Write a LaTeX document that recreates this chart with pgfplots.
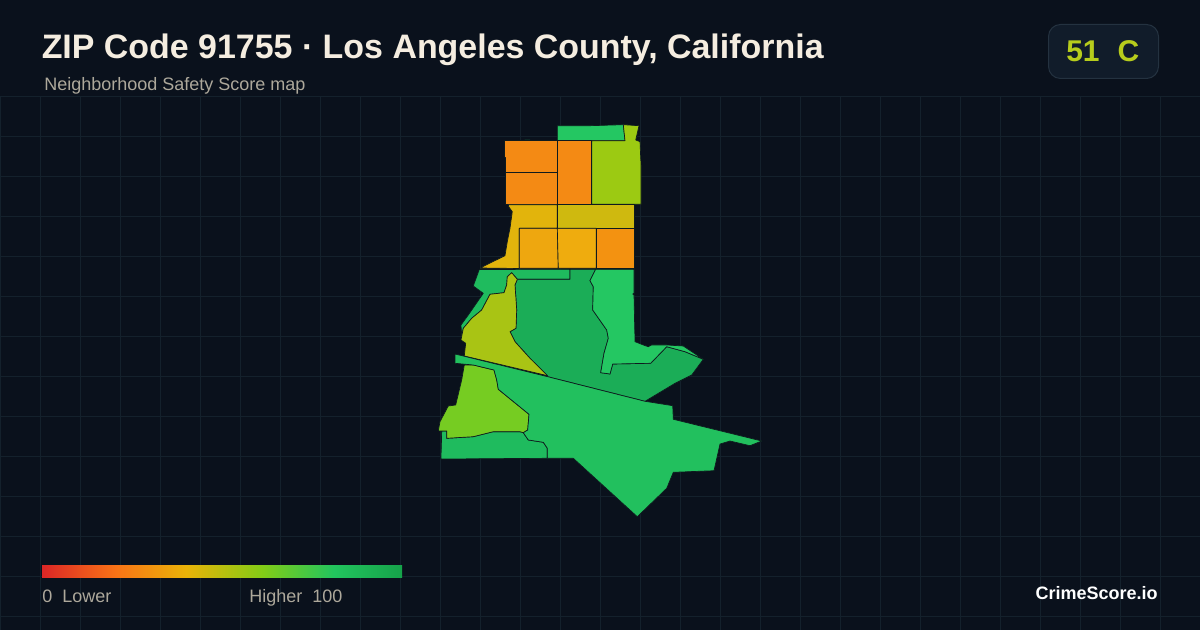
\documentclass[border=0pt]{standalone}
\usepackage{pgfplots}
\pgfplotsset{compat=1.18}
\usepackage{fontspec}
\setmainfont{Liberation Sans}
\definecolor{bg}{HTML}{0A111C}
\definecolor{gridc}{HTML}{14212C}
\definecolor{edge}{HTML}{0E1A1E}
\definecolor{titlec}{HTML}{F5EDE0}
\definecolor{subc}{HTML}{ADA89B}
\definecolor{badgef}{HTML}{111C2A}
\definecolor{badgee}{HTML}{243240}
\definecolor{badget}{HTML}{B7CC1C}
\definecolor{cA}{HTML}{F48A14}
\definecolor{cB}{HTML}{9CCA12}
\definecolor{cC}{HTML}{E2B40C}
\definecolor{cD}{HTML}{CFB90F}
\definecolor{cE}{HTML}{EEA70F}
\definecolor{cF}{HTML}{EFAC0E}
\definecolor{cG}{HTML}{F39211}
\definecolor{cH}{HTML}{1FBB5E}
\definecolor{cI}{HTML}{A9C414}
\definecolor{cJ}{HTML}{1BAD57}
\definecolor{cK}{HTML}{24C762}
\definecolor{cL}{HTML}{22C05E}
\definecolor{cM}{HTML}{76CC22}
\definecolor{scA}{HTML}{DC2626}
\definecolor{scB}{HTML}{F97316}
\definecolor{scC}{HTML}{EAB308}
\definecolor{scD}{HTML}{84CC16}
\definecolor{scE}{HTML}{22C55E}
\definecolor{scF}{HTML}{16A34A}
\pgfdeclarehorizontalshading{scorebar}{100bp}{
 color(0bp)=(scA);
 color(25bp)=(scA);
 color(35.25bp)=(scB);
 color(45bp)=(scC);
 color(55.5bp)=(scD);
 color(65.5bp)=(scE);
 color(75bp)=(scF);
 color(100bp)=(scF)}
\pgfplotsset{zone/.style={fill=#1,draw=edge,line width=0.5pt,line join=round,forget plot}}
\begin{document}
\begin{tikzpicture}
\begin{axis}[
 scale only axis,width=900pt,height=472.5pt,
 xmin=0,xmax=1200,ymin=0,ymax=630,y dir=reverse,
 axis lines=none,clip=true]
\fill[bg] (axis cs:0,0) rectangle (axis cs:1200,630);
\pgfplotsinvokeforeach{0,40,80,120,160,200,240,280,320,360,400,440,480,520,560,600,640,680,720,760,800,840,880,920,960,1000,1040,1080,1120,1160}{
 \addplot[gridc,line width=0.75pt,forget plot] coordinates {(#1+0.5,96)(#1+0.5,630)};}
\pgfplotsinvokeforeach{96,136,176,216,256,296,336,376,416,456,496,536,576,616}{
 \addplot[gridc,line width=0.75pt,forget plot] coordinates {(0,#1+0.5)(1200,#1+0.5)};}
% map zones
\addplot[zone=cK] coordinates {(557.3,125.7)(590,125.7)(623.3,124.7)(625,140.7)(557.3,140.7)} --cycle;
\addplot[zone=cB] coordinates {(623.3,124.7)(639,125.7)(635.7,140)(640,141.7)(641,165)(641,204.3)(591.7,204.3)(591.7,140.7)(625,140.7)} --cycle;
\addplot[fill=cH,draw=none,forget plot] coordinates {(504,140.8)(530,139.8)(530,141)(504,141)} --cycle;
\addplot[zone=cA] coordinates {(504,140.7)(557.3,140.7)(557.3,172.3)(505,172.3)(505,157)(504,157)} --cycle;
\addplot[zone=cA] coordinates {(505,172.3)(557.3,172.3)(557.3,204.3)(505,204.3)} --cycle;
\addplot[zone=cA] coordinates {(557.3,140.7)(591.7,140.7)(591.7,204.3)(557.3,204.3)} --cycle;
\addplot[zone=cC] coordinates {(508.3,204.7)(557.3,204.7)(557.3,228.3)(519.3,228.3)(519.3,268.5)(480,268)(505,255.7)(507.3,241.7)(510,228.3)(512.3,211.7)(508.7,206.7)} --cycle;
\addplot[zone=cD] coordinates {(557.3,204.7)(634,204.7)(634,228.3)(557.3,228.3)} --cycle;
\addplot[zone=cE] coordinates {(519.3,228.3)(557.3,228.3)(558.3,268.3)(519.3,268.3)} --cycle;
\addplot[zone=cF] coordinates {(557.3,228.3)(596.3,228.3)(596.3,268.3)(558.3,268.3)} --cycle;
\addplot[zone=cG] coordinates {(596.3,228.3)(634,228.3)(634,268.3)(596.3,268.3)} --cycle;
\addplot[zone=cH] coordinates {(479.3,269.5)(570,269.3)(570,279.3)(517.3,279.3)(511.7,272.7)(507.3,276.7)(506.7,285)(504,292.7)(490,294.3)(481.7,310)(471.7,318.3)(463.3,328.3)(461.7,335)(461,325)(468.3,315)(483.3,293.3)(473.3,286)} --cycle;
\addplot[zone=cJ] coordinates {(570,269.3)(595.7,269.3)(590,280.7)(593.3,286.7)(592.7,310)(606.7,330)(608.3,338.3)(604,353.3)(600.7,372.7)(610,374)(612.7,364)(650.7,363.3)(666.7,346.7)(685,351.7)(703.3,359.3)(691.7,375)(675,383.3)(645,401.3)(547.7,376.7)(530,358.3)(515,341.7)(510,331.7)(516,328.3)(516.7,310)(515,285)(517.3,279.3)(570,279.3)} --cycle;
\addplot[zone=cK] coordinates {(595.7,269.3)(634,269.3)(634,293.3)(632.7,294)(634,295)(635,341.7)(643.3,345)(648.3,346.7)(651.7,345)(666.7,345)(683.3,346)(703.3,359.3)(685,351.7)(666.7,346.7)(650.7,363.3)(612.7,364)(610,374)(600.7,372.7)(604,353.3)(608.3,338.3)(606.7,330)(592.7,310)(593.3,286.7)(590,280.7)} --cycle;
\addplot[zone=cI] coordinates {(511.7,272.7)(517.3,279.3)(515,285)(516.7,310)(516,328.3)(510,331.7)(515,341.7)(530,358.3)(547.7,375.7)(464.3,356)(465.7,343.3)(461,340)(463.3,328.3)(471.7,318.3)(481.7,310)(490,294.3)(504,292.7)(506.7,285)(507.3,276.7)} --cycle;
\addplot[zone=cH] coordinates {(441.7,431)(446.7,431)(446.7,438.3)(473.3,436.7)(493.3,431.7)(520,431.7)(523.3,432.7)(528.3,440)(543.3,442.3)(547.3,448.3)(547.3,458.3)(441,459)} --cycle;
\addplot[zone=cM] coordinates {(464.3,365)(473.3,365)(494,370)(496.7,380)(498.3,389.3)(529,414.3)(527.7,430)(523.3,432.7)(520,431.7)(493.3,431.7)(473.3,436.7)(446.7,438.3)(446.7,431)(438.3,431)(440,421.7)(448.3,406)(455.7,405)(461.7,380)} --cycle;
\addplot[zone=cL] coordinates {(455,354)(547.7,376.7)(645,401.3)(672.7,405.7)(673.3,419.3)(761.7,441)(750,445.7)(730,441)(720,444)(714,470.7)(673.3,472.3)(666.7,488.3)(637.3,516.7)(573.3,458.3)(547.3,458.3)(547.3,448.3)(543.3,442.3)(528.3,440)(523.3,432.7)(527.7,430)(529,414.3)(498.3,389.3)(496.7,380)(494,370)(473.3,365)(455,363.3)} --cycle;
% header
\node[anchor=base west,inner sep=0,text=titlec,font=\fontsize{25.45pt}{30pt}\selectfont\bfseries] at (axis cs:41.5,59) {ZIP Code 91755 · Los Angeles County, California};
\node[anchor=base west,inner sep=0,text=subc,font=\fontsize{13.5pt}{15pt}\selectfont] at (axis cs:44,91) {Neighborhood Safety Score map};
\draw[fill=badgef,draw=badgee,line width=0.75pt,rounded corners=9pt] (axis cs:1048.5,24.5) rectangle (axis cs:1158.5,78.5);
\node[anchor=base west,inner sep=0,text=badget,font=\fontsize{22.5pt}{26pt}\selectfont\bfseries] at (axis cs:1066,62) {51\hspace{0.6em}C};
% legend
\path[shading=scorebar] (axis cs:42,565.4) rectangle (axis cs:402,578);
\node[anchor=base west,inner sep=0,text=subc,font=\fontsize{13.5pt}{15pt}\selectfont] at (axis cs:42,602.5) {0\hspace{0.556em}Lower};
\node[anchor=base west,inner sep=0,text=subc,font=\fontsize{13.5pt}{15pt}\selectfont] at (axis cs:249,602.5) {Higher\hspace{0.556em}100};
\node[anchor=base east,inner sep=0,text=white,font=\fontsize{13.5pt}{16pt}\selectfont\bfseries] at (axis cs:1158,599.5) {CrimeScore.io};
\end{axis}
\end{tikzpicture}
\end{document}
